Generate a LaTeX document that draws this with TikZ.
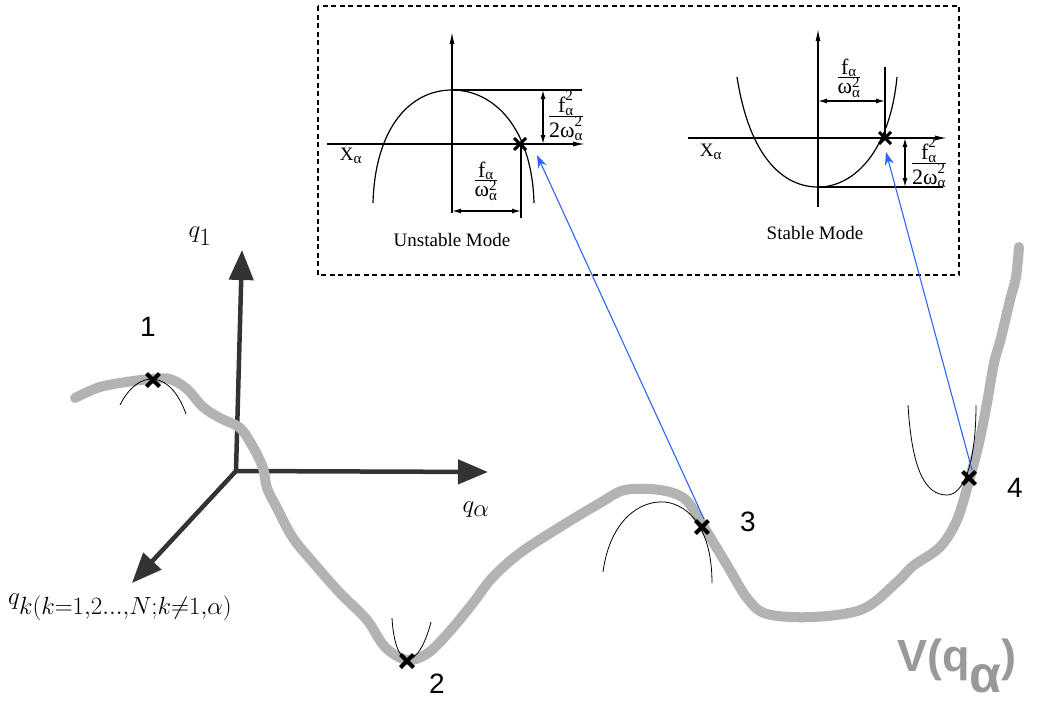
\documentclass[tikz,border=0pt]{standalone}
\usepackage{fontspec}
\setmainfont{Liberation Serif}
\newfontfamily\lsans{Liberation Sans}
\usetikzlibrary{arrows.meta}
\definecolor{axgray}{HTML}{333333}
\definecolor{curvegray}{HTML}{B3B3B3}
\definecolor{vgray}{HTML}{999999}
\definecolor{linkblue}{RGB}{45,100,245}
\newcommand{\ssz}{\fontsize{15}{15}\selectfont}
\newcommand{\fa}{\hbox{f}_{\hbox{\ssz α}}}
\newcommand{\faa}{\hbox{f}^{\hbox{\ssz 2}}_{\hbox{\ssz α}}}
\newcommand{\wa}{\hbox{ω}^{\hbox{\ssz 2}}_{\hbox{\ssz α}}}
\newcommand{\twa}{\hbox{2ω}^{\hbox{\ssz 2}}_{\hbox{\ssz α}}}
\newcommand{\xa}{$\hbox{X}_{\hbox{\ssz α}}$}
\newcommand{\frc}[2]{$\frac{#1}{#2}$}
\tikzset{
  axisarrow/.style={line width=4.5pt, draw=axgray, -{Triangle[length=30pt,width=24pt]}},
  vcurve/.style={line width=10pt, draw=curvegray, line cap=round, line join=round},
  osc/.style={line width=0.8pt, draw=black},
  crossmark/.style={line width=4pt, draw=black},
  numlbl/.style={font=\lsans\fontsize{28}{28}\selectfont, inner sep=0pt},
  axlbl/.style={font=\fontsize{33}{33}\selectfont, inner sep=0pt},
  link/.style={line width=1.1pt, draw=linkblue, -{Stealth[length=13pt,width=9pt]}},
  inaxis/.style={line width=1.2pt, -{Latex[length=12pt,width=5pt]}},
  dim/.style={line width=1.2pt, {Latex[length=9pt,width=5pt]}-{Latex[length=9pt,width=5pt]}},
  inline/.style={line width=1.2pt},
  intext/.style={font=\fontsize{19}{21}\selectfont, inner sep=0pt},
  frtext/.style={font=\fontsize{22}{24}\selectfont, inner sep=0pt},
}
\begin{document}
\begin{tikzpicture}[x=1pt,y=-1pt]
\useasboundingbox (0,0) rectangle (1042,710);
% ---------- dashed inset box ----------
\draw[line width=1.2pt, dash pattern=on 5pt off 3.5pt] (318,6) rectangle (959,275);

% ---------- Unstable mode inset ----------
\draw[inaxis] (452,213) -- (452,32);
\draw[inaxis] (327,144) -- (585,144);
\draw[inline] (373,203) .. controls (375,128) and (410,90) .. (452,90) .. controls (494,90) and (532,128) .. (534,203);
\draw[inline] (452,90) -- (582,90);
\draw[dim] (543,90) -- (543,144);
\draw[inline] (521,144) -- (521,218);
\draw[dim] (452,211) -- (521,211);
\draw[line width=3pt] (514,138) -- (526,150) (514,150) -- (526,138);
\node[frtext] (uf1) at (566,116) {\frc{\faa}{\twa}};
\node[frtext] (uf2) at (486,181) {\frc{\fa}{\wa}};
\node[intext] (uxa) at (351,156) {\xa};
\node[intext] (ulab) at (452,240) {Unstable Mode};

% ---------- Stable mode inset ----------
\draw[inaxis] (818,207) -- (818,29);
\draw[inaxis] (688,138) -- (947,138);
\draw[inline] (737,77) .. controls (750,160) and (785,187) .. (818,187) .. controls (855,187) and (890,150) .. (897,77);
\draw[inline] (818,187) -- (943,187);
\draw[inline] (885,138) -- (885,67);
\draw[dim] (818,101) -- (885,101);
\draw[dim] (905,138) -- (905,187);
\draw[line width=3pt] (879,132) -- (891,144) (879,144) -- (891,132);
\node[frtext] (sf1) at (849,78) {\frc{\fa}{\wa}};
\node[frtext] (sf2) at (929,163) {\frc{\faa}{\twa}};
\node[intext] (sxa) at (711,152) {\xa};
\node[intext] (slab) at (815,233) {Stable Mode};

% ---------- axes ----------
\coordinate (O) at (236,471);
\coordinate (q1tip) at (242,250);
\coordinate (qatip) at (488,472);
\coordinate (qktip) at (132,583);
\draw[axisarrow] (O) -- (q1tip);
\draw[axisarrow] (O) -- (qatip);
\draw[axisarrow] (O) -- (qktip);
\node[axlbl] (lq1) at (200,236) {$q_1$};
\node[axlbl] (lqa) at (476,510) {$q_\alpha$};
\node[axlbl, anchor=west] (lqk) at (8,607) {$q_{k(k=1,2...,N;k\neq1,\alpha)}$};

% ---------- potential curve ----------
\draw[vcurve] plot[smooth, tension=0.55] coordinates {
 (75,398) (100,387) (133,381) (153,379) (170,379) (187,389) (203,407) (220,418)
 (240,428) (253,447) (263,468) (267,488) (277,508) (293,538) (317,567) (340,593)
 (367,620) (385,647) (407,660) (428,653) (450,631) (473,603) (492,578) (520,553)
 (560,527) (600,503) (625,490) (660,490) (685,499) (702,524) (727,565) (747,598)
 (767,614) (813,617) (863,609) (897,582) (913,566) (940,547) (957,520) (969,481)
 (979,443) (987,403) (994,363) (1001,338) (1010,300) (1016,277) (1019,247)};
\node[font=\lsans\bfseries\fontsize{45}{45}\selectfont, text=vgray, inner sep=0pt, anchor=west] (V) at (897,666) {V(q\raisebox{-0.9ex}{\fontsize{52}{52}\selectfont α})};

% ---------- osculating arcs ----------
\draw[osc] (120,405) .. controls (138,369) and (170,369) .. (186,414);
\draw[osc] (392,618) .. controls (395,672) and (418,672) .. (431,622);
\draw[osc] (603,572) .. controls (610,520) and (640,500) .. (665,502) .. controls (690,505) and (712,530) .. (712,583);
\draw[osc] (908,405) .. controls (912,470) and (925,495) .. (947,495) .. controls (963,495) and (976,465) .. (976,405);

% ---------- marked points ----------
\coordinate (p1) at (153,380);
\coordinate (p2) at (407,661);
\coordinate (p3) at (702,527);
\coordinate (p4) at (969,478);
\foreach \p in {p1,p2,p3,p4}{
  \draw[crossmark] ([shift={(-6.5,-6.5)}]\p) -- ([shift={(6.5,6.5)}]\p) ([shift={(-6.5,6.5)}]\p) -- ([shift={(6.5,-6.5)}]\p);
}
\node[numlbl] (n1) at (148,327) {1};
\node[numlbl] (n2) at (437,684) {2};
\node[numlbl] (n3) at (748,522) {3};
\node[numlbl] (n4) at (1015,488) {4};

% ---------- links ----------
\coordinate (l3) at (704,519);
\coordinate (l4) at (972,470);
\coordinate (u3) at (537,155);
\coordinate (s4) at (886,152);
\draw[link] (l3) -- (u3);
\draw[link] (l4) -- (s4);
\end{tikzpicture}
\end{document}
